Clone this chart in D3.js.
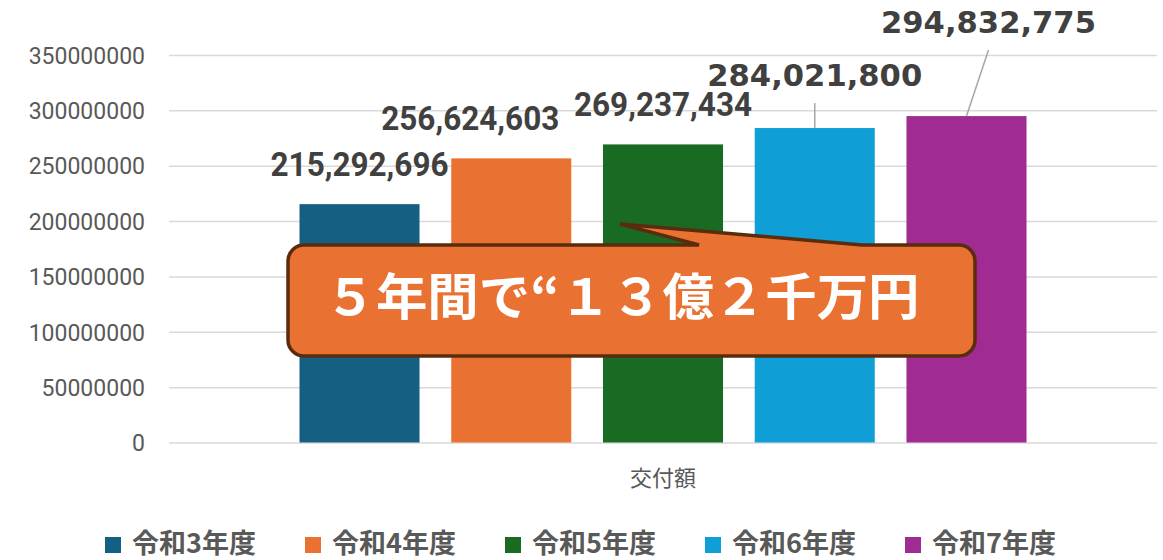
<!DOCTYPE html>
<html><head><meta charset="utf-8">
<script src="https://cdn.jsdelivr.net/npm/d3@7"></script>
<style>
html,body{margin:0;padding:0;background:#fff;}
svg{display:block;}
</style></head>
<body>
<svg id="chart" width="1163" height="560"></svg>
<script>
// ---- data ----
const categories = ["交付額"];
const seriesNames = ["令和3年度", "令和4年度", "令和5年度", "令和6年度", "令和7年度"];
const seriesValues = [215292696, 256624603, 269237434, 284021800, 294832775];
const yTickValues = [0, 50000000, 100000000, 150000000, 200000000, 250000000, 300000000, 350000000];
const calloutText = "５年間で“１３億２千万円";

// ---- styling / layout config ----
const colors = ["#156082", "#E97132", "#196B24", "#0F9ED5", "#A02B93"];
const labelOffsets = [[0, -28], [-41, -28], [0, -28], [0, -42], [22, -83]]; // dx, dy from bar top
const labelBig = [false, false, false, true, true];

const svg = d3.select("#chart");
const plotLeft = 169, plotRight = 1157, plotTop = 55, plotBottom = 442.5;

const y = d3.scaleLinear().domain([0, 350000000]).range([plotBottom, plotTop]);
const x0 = d3.scaleBand().domain(categories).range([plotLeft, plotRight]).paddingInner(0).paddingOuter(0.1795);
const x1 = d3.scaleBand().domain(seriesNames).range([0, x0.bandwidth()]).paddingInner(0.209).paddingOuter(0);

// gridlines
const grid = d3.axisLeft(y).tickValues(yTickValues).tickSize(-(plotRight - plotLeft)).tickFormat("");
const gG = svg.append("g").attr("transform", `translate(${plotLeft},0)`).call(grid);
gG.select(".domain").remove();
gG.selectAll(".tick line").attr("stroke", "#d9d9d9").attr("stroke-width", 1.5);

// y tick labels
const yAxis = d3.axisLeft(y).tickValues(yTickValues).tickSize(0).tickPadding(0).tickFormat(d3.format("d"));
const yG = svg.append("g").attr("transform", `translate(145,0)`).call(yAxis);
yG.select(".domain").remove();
yG.selectAll("text").attr("font-family", "Roboto, 'Liberation Sans', sans-serif").attr("font-size", 23)
  .attr("fill", "#595959").attr("dy", "0.36em");

// category axis label
const xAxis = d3.axisBottom(x0).tickSize(0).tickPadding(0);
const xG = svg.append("g").attr("transform", `translate(0,${plotBottom})`).call(xAxis);
xG.select(".domain").remove();
xG.selectAll("text").attr("font-family", "'Noto Sans CJK JP', sans-serif").attr("font-size", 22)
  .attr("fill", "#595959").attr("dy", 0).attr("y", 43);

// bars
const group = svg.append("g").attr("transform", `translate(${x0(categories[0])},0)`);
const data = seriesNames.map((s, i) => ({ name: s, value: seriesValues[i], i }));
group.selectAll("rect").data(data).enter().append("rect")
  .attr("x", d => x1(d.name)).attr("width", x1.bandwidth())
  .attr("y", d => y(d.value)).attr("height", d => plotBottom - y(d.value))
  .attr("fill", d => colors[d.i]);

// leader lines
group.selectAll("line.leader").data(data.filter(d => labelBig[d.i])).enter().append("line")
  .attr("class", "leader")
  .attr("x1", d => x1(d.name) + x1.bandwidth() / 2)
  .attr("y1", d => y(d.value))
  .attr("x2", d => x1(d.name) + x1.bandwidth() / 2 + labelOffsets[d.i][0])
  .attr("y2", d => y(d.value) + labelOffsets[d.i][1] + 17)
  .attr("stroke", "#a6a6a6").attr("stroke-width", 1.5);

// data labels
const fmt = d3.format(",");
group.selectAll("text.lbl").data(data).enter().append("text")
  .attr("class", "lbl")
  .attr("x", d => x1(d.name) + x1.bandwidth() / 2 + labelOffsets[d.i][0])
  .attr("y", d => y(d.value) + labelOffsets[d.i][1])
  .attr("text-anchor", "middle")
  .attr("font-family", d => labelBig[d.i] ? "'DejaVu Sans', sans-serif" : "Roboto, sans-serif")
  .attr("font-weight", "bold")
  .attr("font-size", d => labelBig[d.i] ? 31 : 33)
  .attr("textLength", d => labelBig[d.i] ? 215 : 178)
  .attr("lengthAdjust", "spacingAndGlyphs")
  .attr("fill", "#404040")
  .text(d => fmt(d.value));

// callout annotation
const L = 288, R = 975, T = 245, B = 356, r = 16;
const p1 = 699, p2 = 862, tipX = 620, tipY = 224;
const path = `M${L + r},${T} L${p1},${T} L${tipX},${tipY} L${p2},${T} L${R - r},${T}
 A${r},${r} 0 0 1 ${R},${T + r} L${R},${B - r} A${r},${r} 0 0 1 ${R - r},${B}
 L${L + r},${B} A${r},${r} 0 0 1 ${L},${B - r} L${L},${T + r} A${r},${r} 0 0 1 ${L + r},${T} Z`;
svg.append("path").attr("d", path).attr("fill", "#E97132").attr("stroke", "#5a2c0e")
  .attr("stroke-width", 3.5).attr("stroke-linejoin", "miter");
svg.append("text").attr("x", 622).attr("y", 315).attr("text-anchor", "middle")
  .attr("font-family", "'Noto Sans CJK JP', sans-serif").attr("font-weight", "bold")
  .attr("font-size", 50).attr("fill", "#fff")
  .attr("textLength", 595).attr("lengthAdjust", "spacingAndGlyphs")
  .text(calloutText);

// legend
const legend = svg.append("g");
const li = legend.selectAll("g").data(data).enter().append("g")
  .attr("transform", (d, i) => `translate(${105 + i * 200},0)`);
li.append("rect").attr("x", 0).attr("y", 537).attr("width", 16).attr("height", 16)
  .attr("fill", d => colors[d.i]);
li.append("text").attr("x", 27).attr("y", 553).attr("font-family", "'Noto Sans CJK JP', sans-serif")
  .attr("font-weight", "bold").attr("font-size", 27).attr("fill", "#595959")
  .text(d => d.name);
</script>
</body></html>
